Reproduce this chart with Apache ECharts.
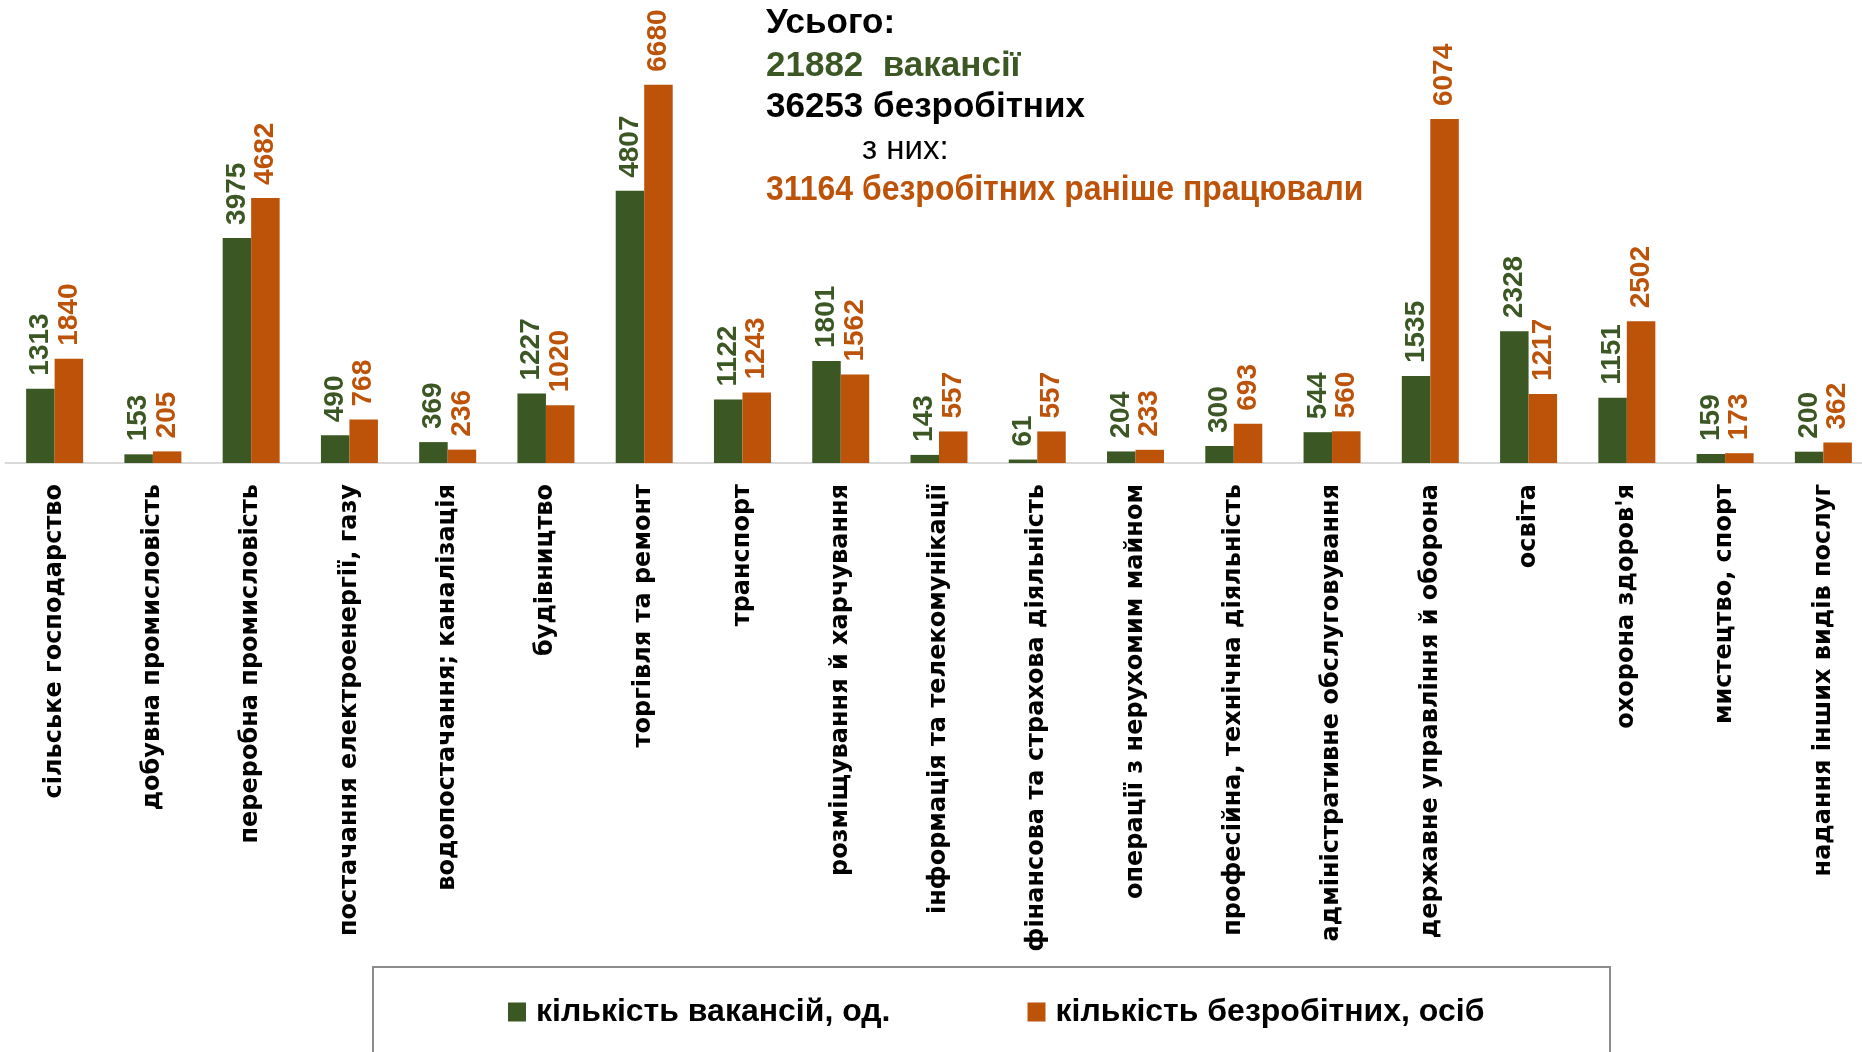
<!DOCTYPE html>
<html>
<head>
<meta charset="utf-8">
<title>vacancies</title>
<script type="text/javascript" src="https://cdn.jsdelivr.net/npm/echarts@6/dist/echarts.min.js"></script>
<style>
	body { margin: 0; background: #fff; overflow: hidden; }
	#container { width: 1884px; height: 1052px; }
</style>
</head>
<body>
	<div id="container"></div>
	<script type="text/javascript">
	var categories = [
		'сільське господарство',
		'добувна промисловість',
		'переробна промисловість',
		'постачання електроенергії, газу',
		'водопостачання; каналізація',
		'будівництво',
		'торгівля та ремонт',
		'транспорт',
		'розміщування й харчування',
		'інформація та телекомунікації',
		'фінансова та страхова діяльність',
		'операції з нерухомим майном',
		'професійна, технічна діяльність',
		'адміністративне обслуговування',
		'державне управління й оборона',
		'освіта',
		"охорона здоров'я",
		'мистецтво, спорт',
		'надання інших видів послуг'
	];
	var vacancies = [1313, 153, 3975, 490, 369, 1227, 4807, 1122, 1801, 143, 61, 204, 300, 544, 1535, 2328, 1151, 159, 200];
	var unemployed = [1840, 205, 4682, 768, 236, 1020, 6680, 1243, 1562, 557, 557, 233, 693, 560, 6074, 1217, 2502, 173, 362];
	var seriesNames = ['кількість вакансій, од.', 'кількість безробітних, осіб'];
	var summaryLines = ['Усього:', '21882  вакансії', '36253 безробітних', 'з них:', '31164 безробітних раніше працювали'];

	var green = '#3b5723';
	var orange = '#bd5209';
	var sans = "'Liberation Sans', sans-serif";

	var dom = document.getElementById("container");
	var myChart = echarts.init(dom);

	function valueLabel(color) {
		return {
			show: true,
			position: 'top',
			rotate: 90,
			align: 'left',
			verticalAlign: 'middle',
			distance: 13,
			color: color,
			fontSize: 28,
			fontWeight: 'bold',
			fontFamily: sans
		};
	}

	// summary text block at the top
	var lineY = [23, 66, 107, 150, 190];
	var lineX = [766, 766, 766, 862, 766];
	var lineColor = ['#000', green, '#000', '#000', orange];
	var lineScale = [1, 1, 1, 1, 0.913];
	var summary = summaryLines.map(function (t, i) {
		return {
			type: 'text',
			x: lineX[i],
			y: lineY[i],
			scaleX: lineScale[i],
			style: {
				text: t,
				fill: lineColor[i],
				fontSize: i == 3 ? 33 : 35,
				fontWeight: i == 3 ? 'normal' : 'bold',
				fontFamily: sans,
				verticalAlign: 'middle'
			}
		};
	});

	// the plot runs a little past the right edge of the picture, as in the original
	option = {
		animation: false,
		grid: { left: 5.5, width: 1867, top: 10, bottom: 589, containLabel: false },
		xAxis: {
			type: 'category',
			data: categories,
			axisLine: { lineStyle: { color: '#d9d9d9', width: 2 } },
			axisTick: { show: false },
			axisLabel: {
				interval: 0,
				rotate: 90,
				margin: 21,
				color: '#000',
				fontSize: 24,
				fontWeight: 'bold',
				fontFamily: "'DejaVu Sans', sans-serif"
			}
		},
		yAxis: {
			type: 'value',
			min: 0,
			max: 8000,
			show: false,
			splitLine: { show: false }
		},
		legend: {
			data: seriesNames,
			left: 503,
			top: 991,
			icon: 'rect',
			itemWidth: 18,
			itemHeight: 19,
			itemGap: 137,
			textStyle: {
				color: '#000',
				fontSize: 32,
				fontWeight: 'bold',
				fontFamily: sans,
				padding: [0, 0, 0, 5]
			}
		},
		graphic: summary.concat([{
			type: 'rect',
			shape: { x: 373, y: 967, width: 1237, height: 120 },
			style: { fill: 'none', stroke: '#8c8c8c', lineWidth: 2 }
		}]),
		series: [{
			name: seriesNames[0],
			type: 'bar',
			data: vacancies,
			barGap: '0%',
			barCategoryGap: '42%',
			itemStyle: { color: green },
			label: valueLabel(green)
		}, {
			name: seriesNames[1],
			type: 'bar',
			data: unemployed,
			itemStyle: { color: orange },
			label: valueLabel(orange)
		}]
	};
	myChart.setOption(option, true);
</script>
</body>
</html>
